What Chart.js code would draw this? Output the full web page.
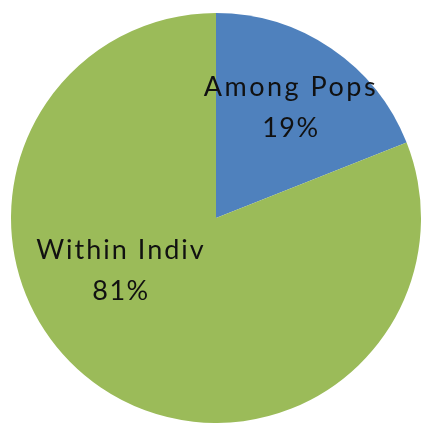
<!DOCTYPE html>
<html>
<head>
<meta charset="utf-8">
<script src="https://cdn.jsdelivr.net/npm/chart.js@4"></script>
<style>
html,body{margin:0;padding:0;background:#fff;overflow:hidden;}
#wrap{width:422px;height:423px;position:relative;}
</style>
</head>
<body>
<div id="wrap"><canvas id="c" width="422" height="423"></canvas></div>
<script>
const categories = ["Among Pops", "Within Indiv"];
const percentValues = [19, 81];
const sliceColors = ["#4F81BD", "#9BBB59"];

// label placement style: angle (deg clockwise from 12 o'clock, null = slice middle) and radius fraction
const labelPlacement = [
  {angle: null, frac: 0.65, spacing: '2.5px'},
  {angle: 241, frac: 0.53, spacing: '2px'}
];

const labelPlugin = {
  id: 'sliceLabels',
  afterDatasetsDraw(chart) {
    const ctx = chart.ctx;
    const meta = chart.getDatasetMeta(0);
    ctx.save();
    ctx.font = '27px Lato, "Open Sans", sans-serif';
    ctx.fillStyle = '#111';
    ctx.textAlign = 'center';
    ctx.textBaseline = 'middle';
    meta.data.forEach((arc, i) => {
      const p = arc.getProps(['x','y','startAngle','endAngle','outerRadius'], true);
      const place = labelPlacement[i];
      let a;
      if (place.angle === null) a = (p.startAngle + p.endAngle) / 2;
      else a = (place.angle - 90) * Math.PI / 180;
      const r = p.outerRadius * place.frac;
      const x = p.x + Math.cos(a) * r;
      const y = p.y + Math.sin(a) * r;
      ctx.letterSpacing = place.spacing;
      ctx.fillText(categories[i], x, y - 20);
      ctx.letterSpacing = '1.5px';
      ctx.fillText(percentValues[i] + '%', x, y + 21);
    });
    ctx.restore();
  }
};

new Chart(document.getElementById('c'), {
  type: 'pie',
  data: {
    labels: categories,
    datasets: [{
      data: percentValues,
      backgroundColor: sliceColors,
      borderWidth: 0
    }]
  },
  options: {
    responsive: false,
    animation: false,
    layout: {padding: {left: 11, right: 1, top: 13, bottom: 0}},
    plugins: {legend: {display: false}, tooltip: {enabled: false}}
  },
  plugins: [labelPlugin]
});
</script>
</body>
</html>
